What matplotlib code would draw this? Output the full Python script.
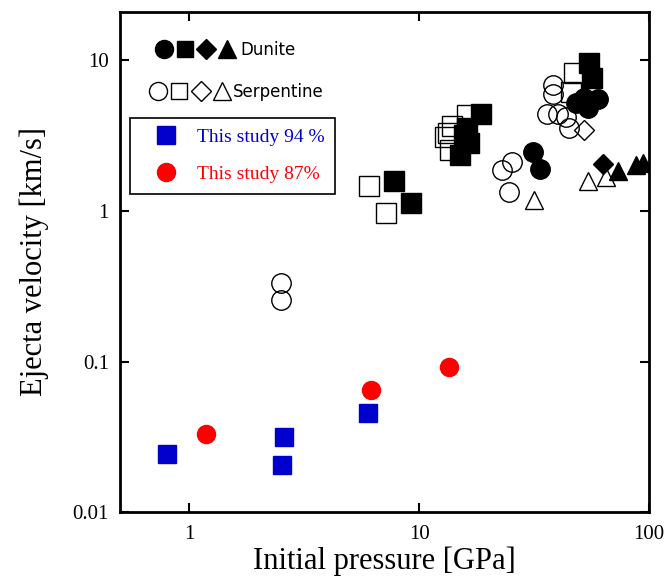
import numpy as np
import matplotlib
matplotlib.use("Agg")
import matplotlib.pyplot as plt
from matplotlib.lines import Line2D
from matplotlib.legend_handler import HandlerTuple

# Initial pressure [GPa], ejecta velocity [km/s]
dun_circle_p = [31.1, 33.5, 48.0, 54.0, 59.7, 52.0]
dun_circle_v = [2.45, 1.90, 5.22, 4.84, 5.50, 5.60]
dun_square_p = [7.8, 9.23, 18.5, 16.1, 16.4, 15.1, 15.7, 54.9, 56.3]
dun_square_v = [1.57, 1.125, 4.37, 3.56, 2.81, 2.35, 3.21, 9.65, 7.67]
dun_diamond_p = [62.8]
dun_diamond_v = [2.06]
dun_tri_p = [73.0, 87.8, 94.0]
dun_tri_v = [1.83, 2.03, 2.08]

ser_circle_p = [2.51, 2.51, 25.4, 23.0, 24.5, 38.0, 38.0, 36.1, 40.2, 43.3, 44.9]
ser_circle_v = [0.333, 0.255, 2.11, 1.86, 1.33, 6.81, 5.93, 4.37, 4.43, 4.21, 3.56]
ser_square_p = [6.07, 7.18, 13.9, 13.0, 13.4, 13.6, 16.2, 47.2, 45.5]
ser_square_v = [1.47, 0.965, 3.69, 3.10, 3.30, 2.55, 4.30, 8.28, 6.20]
ser_diamond_p = [52.2]
ser_diamond_v = [3.47]
ser_tri_p = [31.6, 54.0, 64.9]
ser_tri_v = [1.18, 1.58, 1.69]

study94_p = [0.804, 2.59, 2.52, 6.0]
study94_v = [0.0245, 0.0316, 0.0206, 0.0455]
study87_p = [1.186, 6.15, 13.5]
study87_v = [0.033, 0.065, 0.0916]

BLUE = "#0000cd"
RED = "#ff0000"

fig = plt.figure(figsize=(6.72, 5.88), dpi=100)
ax = fig.add_axes([0.1786, 0.129, 0.7874, 0.851])

open_kw = dict(linestyle="none", markerfacecolor="none", markeredgecolor="black",
               markeredgewidth=1.0)
fill_kw = dict(linestyle="none", color="black")

ax.plot(ser_circle_p, ser_circle_v, marker="o", markersize=14, **open_kw)
ax.plot(ser_square_p, ser_square_v, marker="s", markersize=14, **open_kw)
ax.plot(ser_diamond_p, ser_diamond_v, marker="D", markersize=10, **open_kw)
ax.plot(ser_tri_p, ser_tri_v, marker="^", markersize=13, **open_kw)

ax.plot(dun_circle_p, dun_circle_v, marker="o", markersize=14, **fill_kw)
ax.plot(dun_square_p, dun_square_v, marker="s", markersize=14, **fill_kw)
ax.plot(dun_diamond_p, dun_diamond_v, marker="D", markersize=10, **fill_kw)
ax.plot(dun_tri_p, dun_tri_v, marker="^", markersize=13, **fill_kw)

sq94, = ax.plot(study94_p, study94_v, marker="s", markersize=13, linestyle="none",
                color=BLUE)
ci87, = ax.plot(study87_p, study87_v, marker="o", markersize=13, linestyle="none",
                color=RED)

ax.set_xscale("log")
ax.set_yscale("log")
ax.set_xlim(0.5, 100)
ax.set_ylim(0.01, 21)
ax.set_xticks([1, 10, 100])
ax.set_xticklabels(["1", "10", "100"])
ax.set_yticks([0.01, 0.1, 1, 10])
ax.set_yticklabels(["0.01", "0.1", "1", "10"])
ax.minorticks_off()

for s in ax.spines.values():
    s.set_linewidth(2.0)
ax.tick_params(which="major", direction="in", top=True, right=True,
               length=6.5, width=1.5, labelsize=15)
ax.tick_params(axis="x", pad=9)
ax.tick_params(axis="y", pad=8)
for lab in ax.get_xticklabels() + ax.get_yticklabels():
    lab.set_family("Liberation Serif")

ax.set_xlabel("Initial pressure [GPa]", family="Liberation Serif", fontsize=22,
              labelpad=2)
ax.set_ylabel("Ejecta velocity [km/s]", family="Liberation Serif", fontsize=22,
              labelpad=17)


# key rows for the literature data (no frame), one legend per row
def key(marker, ms, filled):
    if filled:
        return Line2D([], [], marker=marker, markersize=ms, linestyle="none", color="black")
    return Line2D([], [], marker=marker, markersize=ms, linestyle="none",
                  markerfacecolor="none", markeredgecolor="black", markeredgewidth=1.0)


key_shapes = [("o", 13), ("s", 12), ("D", 10), ("^", 13)]
dun_keys = tuple(key(m, s, True) for m, s in key_shapes)
ser_keys = tuple(key(m, s, False) for m, s in key_shapes)
row_kw = dict(handler_map={tuple: HandlerTuple(ndivide=None, pad=0.0)},
              loc="center left", borderaxespad=0, borderpad=0, frameon=False,
              prop={"family": "DejaVu Sans", "size": 12})
leg_d = ax.legend([dun_keys], ["Dunite"], bbox_to_anchor=(0.064, 0.924),
                  handlelength=5.0, handletextpad=0.2, **row_kw)
ax.add_artist(leg_d)
leg_s = ax.legend([ser_keys], ["Serpentine"], bbox_to_anchor=(0.052, 0.84),
                  handlelength=5.1, handletextpad=0.05, **row_kw)
ax.add_artist(leg_s)

leg2 = ax.legend([sq94, ci87], ["This study 94 %", "This study 87%"],
                 loc="upper left", bbox_to_anchor=(0.019, 0.788), borderaxespad=0,
                 borderpad=0.55, handlelength=2.6, handletextpad=0.3,
                 labelspacing=1.0, fancybox=False, framealpha=1, numpoints=1,
                 prop={"family": "Liberation Serif", "size": 14})
leg2.get_frame().set_edgecolor("black")
leg2.get_frame().set_linewidth(1.2)
leg2.get_texts()[0].set_color(BLUE)
leg2.get_texts()[1].set_color(RED)

fig.savefig("out.png", dpi=100)
